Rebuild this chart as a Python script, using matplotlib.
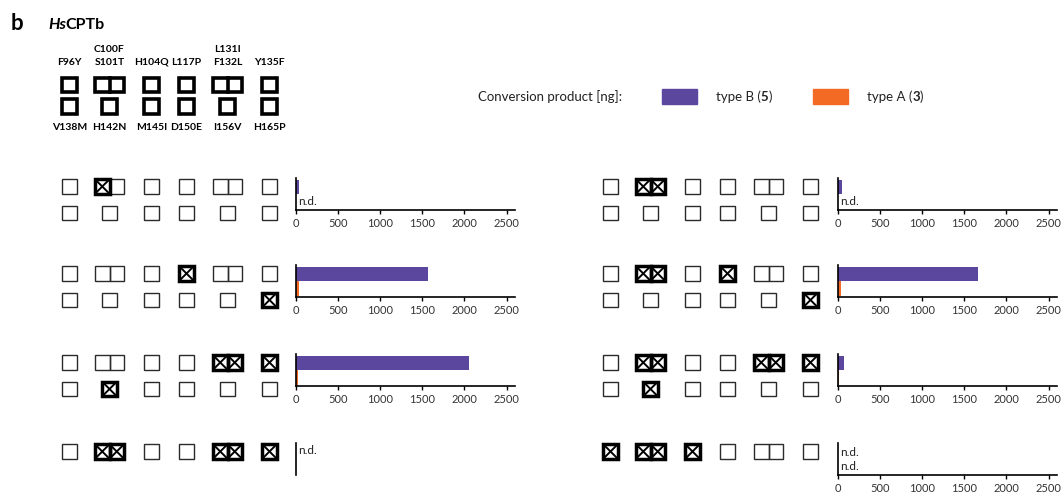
import matplotlib
matplotlib.use('Agg')
import matplotlib.pyplot as plt
from matplotlib.patches import Rectangle

plt.rcParams['font.family'] = ['Lato', 'DejaVu Sans']

# Mutation positions, grouped the way they are drawn (pairs share one double box)
top_groups = [['F96Y'], ['C100F', 'S101T'], ['H104Q'], ['L117P'], ['L131I', 'F132L'], ['Y135F']]
bottom_groups = [['V138M'], ['H142N'], ['M145I'], ['D150E'], ['I156V'], ['H165P']]

# Variants (mutated positions) in each panel row
left_variants = [
    ['C100F'],
    ['L117P', 'H165P'],
    ['L131I', 'F132L', 'Y135F', 'H142N'],
    ['C100F', 'S101T', 'L131I', 'F132L', 'Y135F'],
]
right_variants = [
    ['C100F', 'S101T'],
    ['C100F', 'S101T', 'L117P', 'H165P'],
    ['C100F', 'S101T', 'L131I', 'F132L', 'Y135F', 'H142N'],
    ['F96Y', 'C100F', 'S101T', 'H104Q'],
]
left_has_bottom = [True, True, True, False]
right_has_bottom = [True, True, True, False]

# Conversion product [ng]; None = not detected
left_type_b = [40, 1570, 2050, None]
left_type_a = [None, 30, 25, None]
right_type_b = [45, 1660, 75, None]
right_type_a = [None, 30, 10, None]
left_xaxis = [True, True, True, False]
right_xaxis = [True, True, True, True]

xticks = [0, 500, 1000, 1500, 2000, 2500]
purple = '#5b479d'
orange = '#f26a24'

W, H = 1064, 498
fig = plt.figure(figsize=(W / 100, H / 100), dpi=100)
bg = fig.add_axes([0, 0, 1, 1])
bg.set_xlim(0, W)
bg.set_ylim(H, 0)
bg.axis('off')

CELL = 14.5
col_x = [69.5, 109.5, 151.5, 186.5, 227.5, 269.5]


def draw_group(xc, yc, names, mutated, header=False):
    w = CELL * len(names)
    x0 = xc - w / 2
    y0 = yc - CELL / 2
    if header:
        bg.add_patch(Rectangle((x0, y0), w, CELL, fill=False, ec='black', lw=2.6))
        if len(names) == 2:
            bg.plot([xc, xc], [y0, y0 + CELL], color='black', lw=2.6)
        return
    # thin outlines first, mutated halves drawn thick on top
    for i, name in enumerate(names):
        xi = x0 + i * CELL
        bg.add_patch(Rectangle((xi, y0), CELL, CELL, fill=False, ec='#2a2a2a', lw=1.0))
    for i, name in enumerate(names):
        if name in mutated:
            xi = x0 + i * CELL
            bg.add_patch(Rectangle((xi, y0), CELL, CELL, fill=False, ec='black', lw=2.5, zorder=3))
            bg.plot([xi + 1, xi + CELL - 1], [y0 + 1, y0 + CELL - 1], color='black', lw=1.4, zorder=3)
            bg.plot([xi + 1, xi + CELL - 1], [y0 + CELL - 1, y0 + 1], color='black', lw=1.4, zorder=3)


# Panel heading
bg.text(11, 30, 'b', fontsize=16, fontweight='bold', va='baseline')
t1 = bg.text(48, 29, 'Hs', fontsize=11.5, fontweight='bold', style='italic', va='baseline')
fig.canvas.draw()
r = fig.canvas.get_renderer()
bb = t1.get_window_extent(r)
bg.text(48 + bb.width - 0.5, 29, 'CPTb', fontsize=11.5, fontweight='bold', va='baseline')

# Header key with mutation names
for x, names in zip(col_x, top_groups):
    draw_group(x, 85, names, [], header=True)
    if len(names) == 2:
        bg.text(x, 49, names[0], fontsize=7.5, fontweight='bold', ha='center', va='center')
        bg.text(x, 62, names[1], fontsize=7.5, fontweight='bold', ha='center', va='center')
    else:
        bg.text(x, 62, names[0], fontsize=7.5, fontweight='bold', ha='center', va='center')
for x, names in zip(col_x, bottom_groups):
    draw_group(x, 106.5, names, [], header=True)
    bg.text(x, 127, names[0], fontsize=7.5, fontweight='bold', ha='center', va='center')

# Legend
bg.text(478, 97, 'Conversion product [ng]:', fontsize=9.5, va='center', color='#222222')
bg.add_patch(Rectangle((662, 89), 35, 15, color=purple))
bg.add_patch(Rectangle((813, 89), 35, 15, color=orange))


def rich(x, y, parts):
    for s, bold in parts:
        t = bg.text(x, y, s, fontsize=9.5, va='center', color='#222222',
                    fontweight='bold' if bold else 'normal')
        fig.canvas.draw()
        x += t.get_window_extent(fig.canvas.get_renderer()).width


rich(716, 97, [('type B (', False), ('5', True), (')', False)])
rich(867, 97, [('type A (', False), ('3', True), (')', False)])

# Rows of variants with their bar panels
axis_top = [178, 265, 354, 443]
AX_H = 32


def panel(offset, ax_left, variants, has_bottom, vb, va_, xaxis):
    for k in range(4):
        top = axis_top[k]
        for x, names in zip(col_x, top_groups):
            draw_group(x + offset, top + 8.5, names, variants[k])
        if has_bottom[k]:
            for x, names in zip(col_x, bottom_groups):
                draw_group(x + offset, top + 35, names, variants[k])
        ax = fig.add_axes([ax_left / W, 1 - (top + AX_H) / H, 219 / W, AX_H / H])
        ax.set_xlim(0, 2600)
        ax.set_ylim(1.57, -0.63)
        ax.patch.set_alpha(0)
        for s in ['top', 'right']:
            ax.spines[s].set_visible(False)
        ax.spines['left'].set_linewidth(1.2)
        ax.spines['bottom'].set_linewidth(1.2)
        ax.set_yticks([])
        vals = [vb[k], va_[k]]
        cols = [purple, orange]
        nd_rows = []
        for j in range(2):
            if vals[j] is None:
                nd_rows.append(j)
            else:
                ax.barh(j, vals[j], height=1.0, color=cols[j])
        if xaxis[k]:
            ax.set_xticks(xticks)
            ax.tick_params(axis='x', length=3, width=1, labelsize=8, labelcolor='#333333', pad=3)
            for j in nd_rows:
                ax.text(30, j, 'n.d.', fontsize=8.5, va='center', ha='left', color='#222222')
        else:
            ax.spines['bottom'].set_visible(False)
            ax.set_xticks([])
            ax.text(30, -0.1, 'n.d.', fontsize=8.5, va='center', ha='left', color='#222222')


panel(0, 296, left_variants, left_has_bottom, left_type_b, left_type_a, left_xaxis)
panel(541, 838, right_variants, right_has_bottom, right_type_b, right_type_a, right_xaxis)

fig.savefig('out.png', dpi=100)
